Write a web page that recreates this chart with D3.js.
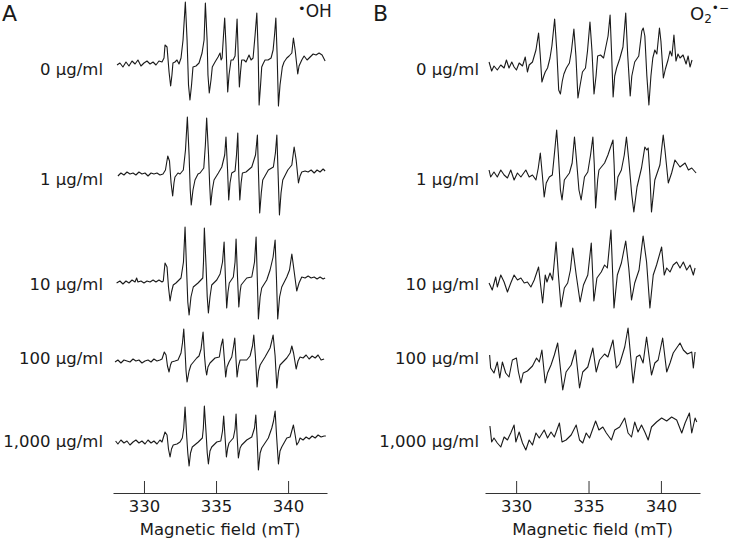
<!DOCTYPE html>
<html>
<head>
<meta charset="utf-8">
<script src="https://cdn.jsdelivr.net/npm/d3@7"></script>
<style>
  body { margin: 0; background: #fff; }
  text { font-family: "DejaVu Sans", Verdana, sans-serif; fill: #1a1a1a; }
</style>
</head>
<body>
<script>
// concentration labels, one row per spectrum
var concLabels = ["0 µg/ml", "1 µg/ml", "10 µg/ml", "100 µg/ml", "1,000 µg/ml"];
var fieldTicks = [330, 335, 340];
var fieldRange = [327.85, 342.7]; // mT

// ESR spectra: [field (mT), signal (a.u.)]
// panel A, DMPO-OH
var oh0 = [[328.13,0],[328.33,2],[328.54,-2],[328.75,3],[328.96,-1],[329.17,4],[329.38,1],[329.58,5],[329.79,-1],[330.00,2],[330.21,4],[330.42,1],[330.63,3],[330.83,0],[331.04,4],[331.25,3],[331.39,7],[331.46,20],[331.60,18],[331.74,-7],[331.85,-21],[331.94,-10],[332.01,2],[332.15,3],[332.29,5],[332.43,1],[332.57,7],[332.71,25],[332.87,63],[332.99,25],[333.09,-20],[333.19,-35],[333.30,-20],[333.40,-2],[333.61,-1],[333.82,2],[334.03,12],[334.17,25],[334.26,62],[334.38,25],[334.44,-10],[334.53,-28],[334.65,-15],[334.74,-2],[334.93,3],[335.14,8],[335.28,12],[335.35,5],[335.42,7],[335.52,30],[335.60,47],[335.69,20],[335.81,-27],[335.90,-10],[336.04,5],[336.18,5],[336.32,9],[336.39,27],[336.46,46],[336.54,10],[336.62,-22],[336.70,-7],[336.78,5],[336.94,5],[337.08,3],[337.29,10],[337.43,5],[337.57,7],[337.71,30],[337.83,52],[337.92,15],[337.99,-40],[338.09,-20],[338.17,-2],[338.26,1],[338.40,5],[338.61,5],[338.82,7],[338.96,15],[339.06,30],[339.15,47],[339.24,10],[339.33,-41],[339.44,-20],[339.60,-2],[339.72,3],[339.91,7],[340.07,9],[340.26,12],[340.37,27],[340.49,15],[340.67,-9],[340.76,-1],[340.95,5],[341.11,9],[341.32,5],[341.53,8],[341.74,11],[341.94,10],[342.15,12],[342.36,10],[342.57,4]];
var oh1 = [[328.19,-1],[328.40,2],[328.61,0],[328.82,3],[329.03,1],[329.24,2],[329.44,0],[329.65,3],[329.86,1],[330.07,2],[330.28,-1],[330.49,2],[330.69,1],[330.90,2],[331.11,0],[331.32,1],[331.49,5],[331.65,19],[331.77,14],[331.88,-8],[331.99,-21],[332.08,-8],[332.15,-2],[332.36,2],[332.50,1],[332.73,5],[332.88,25],[333.01,58],[333.13,20],[333.21,-15],[333.28,-30],[333.40,-15],[333.54,-5],[333.75,1],[333.89,2],[334.15,7],[334.26,30],[334.35,57],[334.48,20],[334.56,-10],[334.63,-30],[334.74,-15],[334.86,-5],[335.16,2],[335.40,8],[335.60,20],[335.69,38],[335.80,5],[335.88,-25],[335.97,-8],[336.09,2],[336.32,4],[336.42,20],[336.51,42],[336.58,0],[336.65,-25],[336.74,-8],[336.83,2],[337.08,3],[337.48,8],[337.74,20],[337.87,40],[337.95,0],[338.03,-38],[338.14,-18],[338.24,-5],[338.63,5],[338.98,8],[339.12,22],[339.22,40],[339.31,0],[339.40,-40],[339.51,-18],[339.63,-5],[339.98,5],[340.26,10],[340.42,28],[340.56,15],[340.72,-8],[340.83,-1],[340.95,3],[341.18,4],[341.39,3],[341.60,5],[341.81,2],[342.01,5],[342.22,3],[342.43,6],[342.57,4]];
var oh10 = [[328.10,-1],[328.33,1],[328.54,-2],[328.75,1],[328.96,-1],[329.17,2],[329.38,0],[329.49,4],[329.58,0],[329.79,1],[330.00,-1],[330.21,1],[330.42,0],[330.63,2],[330.83,0],[331.04,2],[331.25,0],[331.34,1],[331.46,19],[331.60,15],[331.70,-5],[331.81,-19],[331.91,-10],[332.03,-3],[332.22,-1],[332.36,1],[332.57,4],[332.74,20],[332.85,55],[332.95,15],[333.04,-20],[333.13,-33],[333.26,-15],[333.42,-5],[333.75,-1],[334.08,4],[334.13,20],[334.19,54],[334.31,15],[334.39,-15],[334.47,-31],[334.58,-15],[334.70,-3],[335.05,2],[335.28,8],[335.45,20],[335.56,40],[335.65,5],[335.74,-26],[335.83,-10],[335.92,-1],[336.20,5],[336.32,20],[336.39,43],[336.49,5],[336.58,-25],[336.67,-10],[336.74,-3],[337.13,4],[337.48,5],[337.67,20],[337.78,45],[337.86,5],[337.94,-37],[338.06,-15],[338.17,-6],[338.52,2],[338.75,12],[338.96,25],[339.10,42],[339.19,5],[339.28,-37],[339.41,-15],[339.56,-5],[339.91,5],[340.10,12],[340.26,28],[340.38,15],[340.60,-9],[340.76,-1],[340.95,5],[341.18,4],[341.39,6],[341.60,4],[341.81,5],[342.01,3],[342.22,5],[342.43,3],[342.57,4]];
var oh100 = [[327.99,-1],[328.19,1],[328.40,-2],[328.61,1],[328.82,0],[329.03,-1],[329.24,2],[329.44,0],[329.65,1],[329.86,-2],[330.07,0],[330.28,1],[330.49,-1],[330.69,2],[330.90,0],[331.11,1],[331.25,2],[331.41,9],[331.53,6],[331.63,-5],[331.74,-11],[331.84,-4],[331.92,-1],[332.15,0],[332.36,1],[332.57,8],[332.67,18],[332.76,32],[332.85,10],[332.92,-10],[332.99,-21],[333.13,-10],[333.26,-4],[333.66,3],[333.82,5],[333.96,12],[334.10,29],[334.20,5],[334.28,-8],[334.35,-14],[334.44,-6],[334.58,-2],[334.93,3],[335.23,4],[335.35,15],[335.47,22],[335.56,5],[335.67,-16],[335.76,-6],[335.90,-1],[336.09,4],[336.22,15],[336.30,23],[336.38,3],[336.46,-16],[336.56,-5],[336.67,1],[337.13,1],[337.36,5],[337.53,15],[337.62,26],[337.73,5],[337.85,-26],[337.95,-10],[338.06,-4],[338.40,4],[338.75,13],[338.87,20],[338.96,26],[339.10,5],[339.22,-27],[339.34,-10],[339.44,-4],[339.91,3],[340.14,8],[340.26,15],[340.38,8],[340.56,-8],[340.69,0],[340.83,4],[341.04,3],[341.25,6],[341.46,2],[341.67,5],[341.88,3],[342.08,6],[342.29,1],[342.50,2]];
var oh1000 = [[328.03,2],[328.19,-1],[328.40,3],[328.61,0],[328.82,2],[329.03,-2],[329.24,1],[329.44,3],[329.65,0],[329.86,2],[330.07,-1],[330.28,3],[330.49,0],[330.69,2],[330.90,-1],[331.11,3],[331.25,1],[331.46,11],[331.60,8],[331.70,-6],[331.81,-14],[331.91,-6],[332.03,-2],[332.29,-1],[332.50,1],[332.66,5],[332.76,15],[332.85,36],[332.95,10],[333.04,-10],[333.13,-23],[333.23,-10],[333.35,-4],[333.77,1],[334.05,5],[334.12,15],[334.19,37],[334.31,10],[334.39,-10],[334.47,-21],[334.58,-8],[334.70,-4],[335.05,1],[335.33,2],[335.45,12],[335.53,27],[335.63,5],[335.72,-14],[335.81,-5],[335.90,0],[336.20,5],[336.32,14],[336.39,29],[336.47,5],[336.55,-15],[336.67,-5],[336.78,-2],[337.13,3],[337.48,6],[337.67,15],[337.76,28],[337.85,5],[337.94,-27],[338.06,-10],[338.17,-5],[338.63,5],[338.87,15],[338.99,22],[339.10,32],[339.21,5],[339.33,-21],[339.44,-8],[339.56,-4],[339.91,5],[340.14,6],[340.37,18],[340.49,8],[340.60,-2],[340.73,1],[340.83,5],[341.04,3],[341.25,6],[341.46,4],[341.67,7],[341.88,5],[342.08,8],[342.29,6],[342.50,7],[342.62,7]];

// panel B, DMPO-OOH
var sup0 = [[328.13,4],[328.31,-5],[328.47,0],[328.70,-4],[328.94,1],[329.17,-2],[329.33,6],[329.51,-2],[329.70,4],[329.86,-1],[330.02,-4],[330.21,3],[330.44,0],[330.63,9],[330.78,-6],[330.90,1],[331.13,4],[331.37,16],[331.55,33],[331.67,10],[331.78,-16],[331.91,-10],[332.01,-6],[332.17,-2],[332.34,8],[332.47,20],[332.66,47],[332.81,15],[332.94,-24],[333.06,-28],[333.19,-15],[333.30,-8],[333.47,-2],[333.68,3],[333.82,15],[333.99,37],[334.13,10],[334.27,-32],[334.41,-20],[334.58,-6],[334.79,-2],[334.93,15],[335.10,44],[335.24,15],[335.38,-28],[335.52,-10],[335.63,10],[335.83,11],[336.04,8],[336.18,18],[336.35,30],[336.49,51],[336.60,10],[336.70,-31],[336.81,-10],[336.94,-2],[337.15,7],[337.38,19],[337.50,40],[337.57,53],[337.71,10],[337.88,-30],[337.99,-10],[338.19,4],[338.47,10],[338.68,35],[338.78,38],[338.89,30],[339.03,-10],[339.17,-39],[339.31,-10],[339.44,8],[339.58,16],[339.72,12],[339.90,38],[340.00,25],[340.17,-12],[340.31,-3],[340.49,6],[340.63,15],[340.76,10],[340.90,31],[341.04,5],[341.18,12],[341.32,8],[341.53,11],[341.74,2],[341.88,10],[342.01,-1],[342.15,6]];
var sup1 = [[328.13,5],[328.24,-2],[328.47,3],[328.70,-2],[328.94,5],[329.17,0],[329.40,-3],[329.63,5],[329.86,-5],[330.09,2],[330.33,-2],[330.67,5],[330.90,-2],[331.13,0],[331.37,-5],[331.53,7],[331.67,22],[331.81,0],[331.94,-22],[332.08,-8],[332.29,-2],[332.50,0],[332.67,25],[332.80,45],[332.92,20],[333.06,-15],[333.17,-25],[333.33,-5],[333.68,2],[333.87,12],[334.03,38],[334.17,15],[334.34,-15],[334.49,-25],[334.72,-2],[334.95,3],[335.14,20],[335.30,38],[335.40,10],[335.49,-33],[335.63,-5],[335.72,5],[336.11,12],[336.34,20],[336.69,35],[336.77,10],[336.85,-25],[337.03,-2],[337.27,5],[337.47,20],[337.62,38],[337.78,15],[337.99,-20],[338.13,-37],[338.35,-12],[338.66,7],[338.89,28],[339.03,25],[339.12,27],[339.24,0],[339.35,-37],[339.58,-5],[339.93,10],[340.16,40],[340.28,25],[340.51,-8],[340.74,2],[340.97,15],[341.32,8],[341.67,12],[341.90,5],[342.13,7],[342.43,2]];
var sup10 = [[328.13,2],[328.35,-5],[328.59,8],[328.70,-2],[328.94,10],[329.17,3],[329.40,-7],[329.63,2],[329.86,10],[330.09,5],[330.33,7],[330.56,2],[330.78,3],[331.02,-2],[331.25,5],[331.55,18],[331.83,-18],[332.01,10],[332.13,3],[332.34,12],[332.52,5],[332.76,43],[332.92,10],[333.10,-22],[333.33,-3],[333.56,2],[333.75,15],[333.91,37],[334.15,10],[334.42,-17],[334.65,0],[334.95,10],[335.19,42],[335.37,-16],[335.58,7],[335.88,13],[336.11,20],[336.30,17],[336.55,55],[336.76,-23],[336.99,10],[337.27,22],[337.57,44],[337.78,17],[337.97,-15],[338.19,2],[338.49,15],[338.77,49],[339.01,23],[339.24,-23],[339.47,10],[339.70,20],[340.05,38],[340.23,10],[340.40,17],[340.63,13],[340.85,20],[341.09,23],[341.32,17],[341.55,23],[341.78,15],[342.01,20],[342.24,10],[342.36,17]];
var sup100 = [[328.17,12],[328.24,-1],[328.47,-6],[328.70,5],[328.87,-11],[329.05,5],[329.28,-6],[329.51,-10],[329.74,7],[330.02,9],[330.16,-5],[330.33,-16],[330.49,-6],[330.78,-4],[331.13,1],[331.41,9],[331.60,5],[331.78,17],[332.01,-16],[332.17,-6],[332.41,2],[332.64,12],[332.87,24],[333.22,-23],[333.45,-5],[333.80,2],[334.10,17],[334.38,-21],[334.60,-5],[334.95,0],[335.30,19],[335.53,-5],[335.76,7],[336.11,13],[336.34,10],[336.69,27],[336.92,-1],[337.15,3],[337.50,20],[337.73,39],[338.08,-16],[338.31,10],[338.54,12],[338.77,4],[339.01,30],[339.35,-8],[339.58,4],[339.81,7],[340.12,29],[340.40,-5],[340.63,4],[340.85,14],[341.32,24],[341.55,17],[341.83,13],[342.13,15],[342.24,-1],[342.36,15]];
var sup1000 = [[328.19,14],[328.31,-2],[328.47,2],[328.70,-3],[328.94,-7],[329.17,3],[329.40,0],[329.63,7],[329.86,15],[329.98,-2],[330.21,8],[330.44,-3],[330.67,-10],[330.90,0],[331.13,-5],[331.37,7],[331.60,2],[331.94,10],[332.17,2],[332.41,8],[332.64,3],[332.99,17],[333.17,-2],[333.45,0],[333.80,5],[334.15,15],[334.38,0],[334.60,-3],[334.84,7],[335.07,2],[335.49,19],[335.72,10],[335.99,13],[336.23,7],[336.58,0],[336.81,10],[337.15,13],[337.50,22],[337.73,7],[337.97,3],[338.19,18],[338.42,8],[338.66,15],[338.89,8],[339.12,0],[339.35,13],[339.70,18],[340.05,22],[340.40,19],[340.74,23],[341.09,20],[341.44,7],[341.67,17],[341.97,27],[342.13,7],[342.36,22],[342.48,18]];

var W = 731, H = 541;
var axisY = 493;
var fontSize = "16.5px";

var panels = [
  { letter: "A", letterX: 2, plotLeft: 113, plotRight: 327, labelX: 103,
    rows: [65, 175, 282, 361, 443], labelRows: [69, 179, 284, 358, 441],
    spectra: [oh0, oh1, oh10, oh100, oh1000] },
  { letter: "B", letterX: 373, plotLeft: 485, plotRight: 700, labelX: 479,
    rows: [66, 175, 285, 367, 440], labelRows: [69, 179, 284, 358, 441],
    spectra: [sup0, sup1, sup10, sup100, sup1000] }
];

var svg = d3.select("body").append("svg")
  .attr("width", W)
  .attr("height", H);

panels.forEach(function(p) {
  var x = d3.scaleLinear().domain(fieldRange).range([p.plotLeft, p.plotRight]);

  // one trace per concentration, stacked
  p.spectra.forEach(function(spec, i) {
    var y = d3.scaleLinear().domain([-60, 60]).range([p.rows[i] + 60, p.rows[i] - 60]);
    var line = d3.line()
      .x(function(d) { return x(d[0]); })
      .y(function(d) { return y(d[1]); });
    svg.append("path")
      .datum(spec)
      .attr("d", line)
      .attr("fill", "none")
      .attr("stroke", "#1a1a1a")
      .attr("stroke-width", 1.1)
      .attr("stroke-linejoin", "round");

    svg.append("text")
      .attr("x", p.labelX)
      .attr("y", p.labelRows[i])
      .attr("dy", "0.35em")
      .attr("text-anchor", "end")
      .style("font-size", fontSize)
      .text(concLabels[i]);
  });

  // field axis, ticks pointing up
  var axis = d3.axisBottom(x)
    .tickValues(fieldTicks)
    .tickSizeInner(-12)
    .tickSizeOuter(0)
    .tickPadding(7);
  var g = svg.append("g")
    .attr("transform", "translate(0," + axisY + ")")
    .attr("font-size", null)
    .attr("font-family", null)
    .call(axis);
  g.attr("font-size", null).attr("font-family", null);
  g.selectAll("path, line").attr("stroke", "#333").attr("stroke-width", 1);
  g.selectAll("text")
    .style("font-size", fontSize)
    .attr("fill", "#1a1a1a");

  svg.append("text")
    .attr("x", (x(fieldRange[0]) + x(fieldRange[1])) / 2)
    .attr("y", 535)
    .attr("text-anchor", "middle")
    .style("font-size", fontSize)
    .text("Magnetic field (mT)");

  svg.append("text")
    .attr("x", p.letterX)
    .attr("y", 21)
    .style("font-size", "22px")
    .text(p.letter);
});

// radical labels
var oh = svg.append("text").attr("x", 298).attr("y", 17).style("font-size", "17px");
oh.append("tspan").attr("dy", -4).style("font-size", "13px").text("•");
oh.append("tspan").attr("dy", 4).text("OH");

var sup = svg.append("text").attr("x", 690).attr("y", 20).style("font-size", "18px");
sup.append("tspan").text("O");
sup.append("tspan").attr("dy", 3).style("font-size", "12px").text("2");
sup.append("tspan").attr("dy", -11).style("font-size", "12px").text("•−");
</script>
</body>
</html>
